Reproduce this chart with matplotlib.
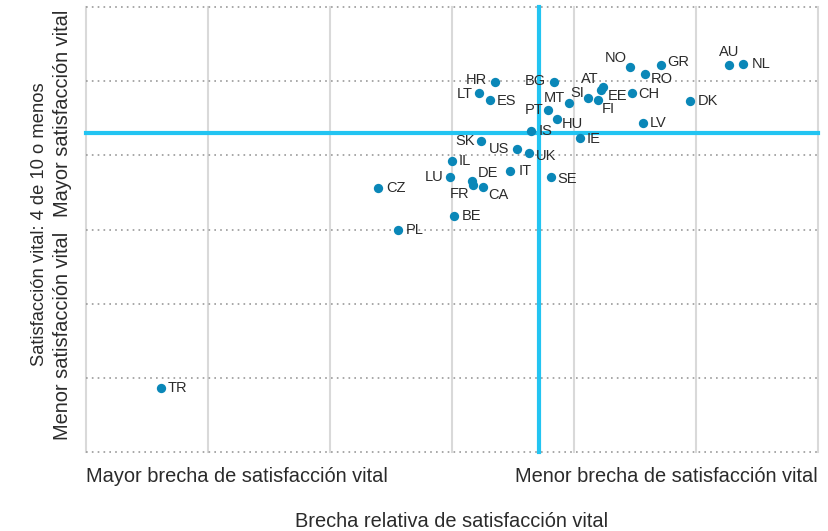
import matplotlib
matplotlib.use("Agg")
import matplotlib.pyplot as plt

plt.rcParams['font.family'] = ['Liberation Sans', 'DejaVu Sans']

# ---- data (relative units) ----
countries = ["AU", "NL", "NO", "GR", "RO", "HR", "BG", "AT", "EE", "SI", "MT", "FI", "CH",
             "LT", "ES", "PT", "HU", "LV", "DK", "IS", "IE", "SK", "US", "UK", "IL", "LU",
             "IT", "SE", "DE", "FR", "CA", "BE", "CZ", "PL", "TR"]
gap_x = [5.268, 5.388, 4.459, 4.713, 4.579, 3.350, 3.839, 4.240, 4.219, 4.117, 3.957, 4.199, 4.473,
         3.224, 3.309, 3.789, 3.858, 4.563, 4.953, 3.648, 4.049, 3.235, 3.533, 3.634, 2.998, 2.984,
         3.478, 3.809, 3.166, 3.175, 3.251, 3.014, 2.396, 2.560, 0.617]
sat_y = [5.218, 5.227, 5.195, 5.218, 5.092, 4.993, 4.989, 4.925, 4.881, 4.777, 4.710, 4.742, 4.836,
         4.836, 4.746, 4.611, 4.486, 4.440, 4.728, 4.332, 4.229, 4.197, 4.085, 4.035, 3.923, 3.712,
         3.793, 3.712, 3.658, 3.596, 3.577, 3.182, 3.564, 2.993, 0.867]
ref_x = 3.713
ref_y = 4.300

x_tick_labels = ["Mayor brecha de satisfacción vital", "Menor brecha de satisfacción vital"]
y_tick_labels = ["Menor satisfacción vital", "Mayor satisfacción vital"]
x_title = "Brecha relativa de satisfacción vital"
y_title = "Satisfacción vital: 4 de 10 o menos"

# label placement (offset in pixels, horizontal/vertical alignment)
label_pos = {
    "AU": (0, 13, 'center', 'center'), "NL": (8, 0, 'left', 'center'),
    "NO": (-3, 9, 'right', 'center'), "GR": (6, 3, 'left', 'center'),
    "RO": (6, -5, 'left', 'center'), "HR": (-8, 2, 'right', 'center'),
    "BG": (-8, 1, 'right', 'center'), "AT": (-5, 8, 'right', 'center'),
    "EE": (7, -6, 'left', 'center'), "SI": (-4, 5, 'right', 'center'),
    "MT": (-4, 5, 'right', 'center'), "FI": (3, -9, 'left', 'center'),
    "CH": (7, -1, 'left', 'center'), "LT": (-7, -1, 'right', 'center'),
    "ES": (7, -1, 'left', 'center'), "PT": (-5, 0, 'right', 'center'),
    "HU": (5, -5, 'left', 'center'), "LV": (7, 0, 'left', 'center'),
    "DK": (7, 0, 'left', 'center'), "IS": (8, 0, 'left', 'center'),
    "IE": (7, -1, 'left', 'center'), "SK": (-6, 0, 'right', 'center'),
    "US": (-8, 0, 'right', 'center'), "UK": (7, -3, 'left', 'center'),
    "IL": (7, 0, 'left', 'center'), "LU": (-7, 0, 'right', 'center'),
    "IT": (8, 0, 'left', 'center'), "SE": (7, -2, 'left', 'center'),
    "DE": (5, 8, 'left', 'center'), "FR": (-4, -9, 'right', 'center'),
    "CA": (6, -8, 'left', 'center'), "BE": (8, 0, 'left', 'center'),
    "CZ": (8, 0, 'left', 'center'), "PL": (7, 0, 'left', 'center'),
    "TR": (6, 0, 'left', 'center'),
}

dot_color = '#0A87B8'
ref_color = '#22C4F2'
text_color = '#2b2b2b'

fig = plt.figure(figsize=(8.29, 5.31), dpi=100)
ax = fig.add_axes([86/829, 79/531, 732/829, 445/531])
ax.set_xlim(0, 6)
ax.set_ylim(0, 6)

for s in ax.spines.values():
    s.set_visible(False)

# grid
for gx in range(0, 7):
    ax.axvline(gx, color='#d9d9d9', lw=1.5, zorder=1, clip_on=False)
for gy in range(0, 7):
    ax.axhline(gy, color='#9a9a9a', lw=1.2, ls=(0, (1, 2.5)), zorder=1, clip_on=False)

# reference lines
ax.axvline(ref_x, color=ref_color, lw=3, zorder=2, clip_on=False)
ax.axhline(ref_y, color=ref_color, lw=3, zorder=2, clip_on=False)

ax.scatter(gap_x, sat_y, s=45, color=dot_color, zorder=3, linewidths=0)

for c, x, y in zip(countries, gap_x, sat_y):
    dx, dy, ha, va = label_pos[c]
    ax.annotate(c, (x, y), xytext=(dx, dy), textcoords='offset pixels',
                ha=ha, va=va, fontsize=10.5, color=text_color, zorder=4)

ax.set_xticks([])
ax.set_yticks([])

# x "tick" labels
ax.text(0.0, -0.0667, x_tick_labels[0], transform=ax.transAxes, ha='left', va='baseline',
        fontsize=14.4, color=text_color)
ax.text(1.0, -0.0667, x_tick_labels[1], transform=ax.transAxes, ha='right', va='baseline',
        fontsize=14.4, color=text_color)
ax.text(0.5, -0.168, x_title, transform=ax.transAxes, ha='center', va='baseline',
        fontsize=14.4, color=text_color)

# y "tick" labels
ax.text(-0.019, 0.027, y_tick_labels[0], transform=ax.transAxes, ha='right', va='bottom',
        rotation=90, fontsize=14.4, color=text_color)
ax.text(-0.019, 0.993, y_tick_labels[1], transform=ax.transAxes, ha='right', va='top',
        rotation=90, fontsize=14.4, color=text_color)
ax.text(-0.052, 0.512, y_title, transform=ax.transAxes, ha='right', va='center',
        rotation=90, fontsize=13.2, color=text_color)

fig.savefig('out.png', dpi=100)
